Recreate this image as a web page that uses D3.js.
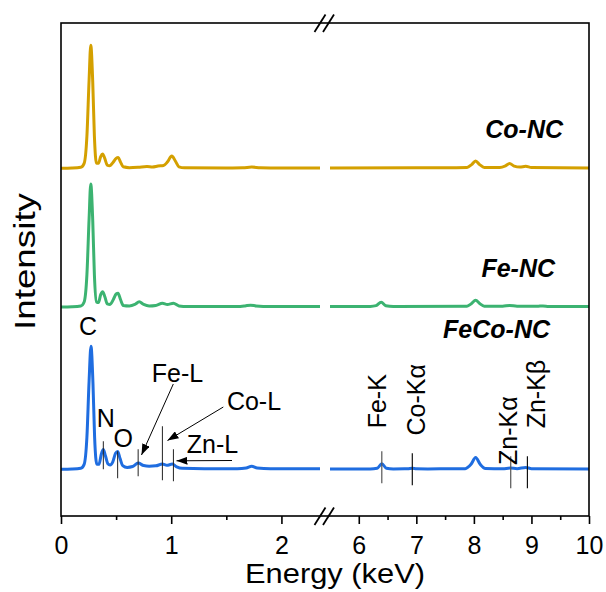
<!DOCTYPE html>
<html>
<head>
<meta charset="utf-8">
<script src="https://cdn.jsdelivr.net/npm/d3@7"></script>
<style>
  body { margin: 0; background: #fff; }
  text { font-family: Arial, "Liberation Sans", sans-serif; fill: #000; }
</style>
</head>
<body>
<svg width="606" height="592"></svg>
<script>
// spectra, [energy keV, counts], C peak scaled to 1000
var coLeft = [[0,0],[0.1,2],[0.18,8],[0.21,40],[0.235,260],[0.255,720],[0.27,1000],[0.288,700],[0.303,260],[0.322,40],
  [0.34,40],[0.36,95],[0.378,116],[0.397,80],[0.42,25],[0.44,20],[0.47,45],[0.5,80],[0.52,87],[0.54,50],[0.565,12],
  [0.62,5],[0.7,8],[0.78,14],[0.83,10],[0.88,18],[0.93,22],[0.965,50],[1.005,100],[1.04,55],[1.07,12],[1.12,4],
  [1.5,3],[1.65,4],[1.73,10],[1.81,4],[1.9,3],[2.35,3]];
var coRight = [[5.5,3],[7.0,4],[7.5,4],[7.88,6],[7.96,30],[8.03,60],[8.1,30],[8.18,6],[8.45,6],[8.55,20],[8.62,38],
  [8.7,18],[8.8,10],[8.9,16],[9.0,6],[10,3]];

var feLeft = [[0,0],[0.1,2],[0.18,8],[0.21,40],[0.235,260],[0.255,720],[0.27,1000],[0.288,700],[0.303,260],[0.322,40],
  [0.34,35],[0.36,100],[0.378,124],[0.397,85],[0.42,25],[0.445,20],[0.475,60],[0.5,105],[0.518,111],[0.54,60],[0.565,12],
  [0.62,8],[0.67,20],[0.71,41],[0.75,20],[0.8,8],[0.86,12],[0.92,30],[0.965,20],[1.02,30],[1.07,8],[1.15,3],
  [1.6,3],[1.67,8],[1.72,14],[1.77,8],[1.9,3],[2.35,3]];
var feRight = [[5.5,3],[6.2,4],[6.3,10],[6.39,38],[6.47,10],[6.6,4],[7.88,6],[7.96,28],[8.03,54],[8.1,28],[8.18,6],
  [8.5,5],[8.62,12],[8.75,5],[9.1,5],[9.2,8],[9.3,4],[10,3]];

var fecoLeft = [[0,0],[0.1,2],[0.18,8],[0.21,40],[0.235,260],[0.255,720],[0.272,1000],[0.29,700],[0.305,260],[0.325,40],
  [0.345,40],[0.365,120],[0.384,160],[0.403,110],[0.425,45],[0.445,35],[0.47,60],[0.495,130],[0.514,145],[0.535,90],
  [0.56,30],[0.6,15],[0.65,22],[0.7,50],[0.75,30],[0.8,25],[0.86,28],[0.92,42],[0.96,32],[1.01,42],[1.05,20],[1.1,8],
  [1.3,5],[1.6,5],[1.68,10],[1.73,25],[1.78,10],[1.9,5],[2.35,5]];
var fecoRight = [[5.5,3],[6.2,3],[6.32,8],[6.4,45],[6.48,8],[6.6,3],[6.85,4],[6.93,8],[7.0,4],[7.2,3],[7.85,5],[7.95,40],
  [8.03,95],[8.11,40],[8.2,6],[8.5,4],[8.63,10],[8.75,5],[8.9,15],[9.0,5],[10,3]];

var sampleNames = ["Co-NC", "Fe-NC", "FeCo-NC"];
var sampleOffsets = [2447, 1320, 0];
var sampleColors = ["#d4a000", "#3cb371", "#1f6de0"];

var leftTicks = [0, 1, 2];
var leftMinor = [0.5, 1.5];
var rightTicks = [6, 7, 8, 9, 10];
var rightMinor = [6.5, 7.5, 8.5, 9.5];

var peakLabels = ["N", "O", "Fe-L", "Co-L", "Zn-L"];
var peakEnergies = [0.384, 0.514, 0.70, 0.92, 1.02];
var kLabels = ["Fe-K", "Co-K\u03b1", "Zn-K\u03b1", "Zn-K\u03b2"];
var kEnergies = [6.40, 6.93, 8.64, 8.93];

var svg = d3.select("svg");
var frame = {left: 61, right: 589, top: 23, bottom: 516};

var xL = d3.scaleLinear().domain([0, 2.35]).range([frame.left, 320]);
var xR = d3.scaleLinear().domain([5.5, 10]).range([330, frame.right]);
var y = d3.scaleLinear().domain([-380, 3628]).range([frame.bottom, frame.top]);

var series = [[coLeft, coRight], [feLeft, feRight], [fecoLeft, fecoRight]];

var g = svg.append("g");

series.forEach(function(s, i) {
    var off = sampleOffsets[i];
    var lineL = d3.line().curve(d3.curveMonotoneX)
        .x(function(d) {return xL(d[0])})
        .y(function(d) {return y(d[1] + off)});
    var lineR = d3.line().curve(d3.curveMonotoneX)
        .x(function(d) {return xR(d[0])})
        .y(function(d) {return y(d[1] + off)});
    [[s[0], lineL], [s[1], lineR]].forEach(function(p) {
        g.append("path")
            .attr("d", p[1](p[0]))
            .attr("fill", "none")
            .attr("stroke", sampleColors[i])
            .attr("stroke-width", 3)
            .attr("stroke-linejoin", "round");
    });
});

// sample names
var nameLayout = [[563, 138], [555, 277], [550, 338]];
sampleNames.forEach(function(n, i) {
    svg.append("text")
        .attr("x", nameLayout[i][0])
        .attr("y", nameLayout[i][1])
        .attr("text-anchor", "end")
        .style("font-size", "25px")
        .style("font-weight", "bold")
        .style("font-style", "italic")
        .text(n);
});

// frame
svg.append("rect")
    .attr("x", frame.left).attr("y", frame.top)
    .attr("width", frame.right - frame.left).attr("height", frame.bottom - frame.top)
    .attr("fill", "none").attr("stroke", "#000").attr("stroke-width", 1.6);

// x axes
function addAxis(scale, vals, size, labels) {
    var ax = d3.axisBottom(scale).tickValues(vals).tickSize(size).tickPadding(12)
        .tickFormat(labels ? d3.format("d") : "");
    var a = svg.append("g")
        .attr("transform", "translate(0," + frame.bottom + ")")
        .call(ax);
    a.select(".domain").remove();
    a.selectAll("line").attr("stroke", "#000").attr("stroke-width", 1.6);
    a.selectAll("text").style("font-size", "25px").attr("font-family", null).style("fill", "#000");
}
addAxis(xL, leftTicks, 8, true);
addAxis(xL, leftMinor, 4, false);
addAxis(xR, rightTicks, 8, true);
addAxis(xR, rightMinor, 4, false);

// break marks
[frame.top, frame.bottom].forEach(function(yy) {
    [320, 328.5].forEach(function(cx) {
        svg.append("line")
            .attr("x1", cx - 5.5).attr("y1", yy + 9)
            .attr("x2", cx + 5.5).attr("y2", yy - 8.5)
            .attr("stroke", "#000").attr("stroke-width", 1.8);
    });
});

// axis titles
svg.append("text")
    .attr("x", 335).attr("y", 583)
    .attr("text-anchor", "middle")
    .attr("textLength", 180).attr("lengthAdjust", "spacingAndGlyphs")
    .style("font-size", "28px")
    .text("Energy (keV)");

svg.append("text")
    .attr("transform", "translate(35,261.5) rotate(-90)")
    .attr("text-anchor", "middle")
    .attr("textLength", 137).attr("lengthAdjust", "spacingAndGlyphs")
    .style("font-size", "30px")
    .text("Intensity");

// element annotations on FeCo-NC
svg.append("defs").append("marker")
    .attr("id", "arr")
    .attr("markerUnits", "userSpaceOnUse")
    .attr("markerWidth", 11).attr("markerHeight", 8)
    .attr("refX", 11).attr("refY", 4)
    .attr("orient", "auto")
    .append("path").attr("d", "M0,0 L11,4 L0,8 z").attr("fill", "#000");

var base = y(0);
var peakSpan = [[-28, 0], [-18, 9], [-20, 7], [-43, 11], [-20, 12]];
peakEnergies.forEach(function(e, i) {
    g.append("line")
        .attr("x1", xL(e)).attr("x2", xL(e))
        .attr("y1", base + peakSpan[i][0]).attr("y2", base + peakSpan[i][1])
        .attr("stroke", "#222").attr("stroke-width", 1);
});
var kSpan = [[-18, 14], [-16, 16], [-13, 19], [-13, 19]];
kEnergies.forEach(function(e, i) {
    g.append("line")
        .attr("x1", xR(e)).attr("x2", xR(e))
        .attr("y1", base + kSpan[i][0]).attr("y2", base + kSpan[i][1])
        .attr("stroke", i == 0 || i == 2 ? "#555" : "#111").attr("stroke-width", 1.2);
});

svg.append("text").attr("x", 88).attr("y", 335).attr("text-anchor", "middle")
    .style("font-size", "25px").text("C");
var peakText = [[105.7, 426.7], [123.3, 446.7], [177.5, 381.7], [254, 410], [212.5, 452.7]];
peakLabels.forEach(function(l, i) {
    svg.append("text")
        .attr("x", peakText[i][0]).attr("y", peakText[i][1])
        .attr("text-anchor", "middle")
        .style("font-size", "25px")
        .text(l);
});

var arrows = [[173.3, 384, 141.5, 455], [223.3, 407, 167.5, 440.5], [232, 460.5, 176.5, 460.8]];
arrows.forEach(function(a) {
    svg.append("line")
        .attr("x1", a[0]).attr("y1", a[1]).attr("x2", a[2]).attr("y2", a[3])
        .attr("stroke", "#000").attr("stroke-width", 1)
        .attr("marker-end", "url(#arr)");
});

var kText = [[386, 428.3], [425, 435.5], [516.7, 465], [545, 428.3]];
kLabels.forEach(function(l, i) {
    svg.append("text")
        .attr("transform", "translate(" + kText[i][0] + "," + kText[i][1] + ") rotate(-90)")
        .style("font-size", "25px")
        .text(l);
});
</script>
</body>
</html>
